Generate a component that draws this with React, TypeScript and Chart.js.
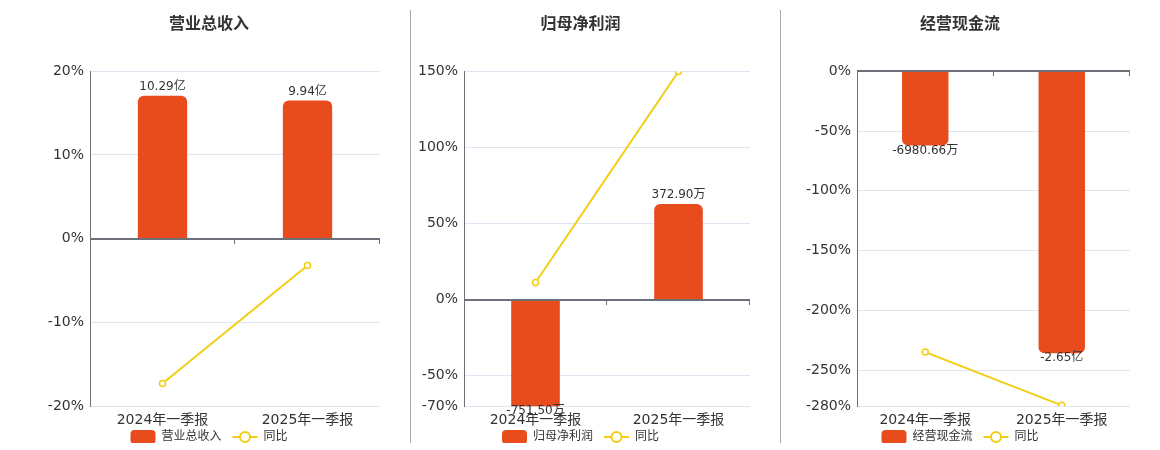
import React, { useEffect, useRef } from 'react';
import { Chart, registerables, Plugin } from 'chart.js';

Chart.register(...registerables);

// categories shared by all three panels
const categories = ['2024年一季报', '2025年一季报'];

// 营业总收入 (亿) and its yoy %
const revenueValues = [10.29, 9.94];
const revenueLabels = ['10.29亿', '9.94亿'];
const revenueYoy = [-17.3, -3.2];
const revenueTicks = [-20, -10, 0, 10, 20];

// 归母净利润 (万) and its yoy %
const profitValues = [-751.5, 372.9];
const profitLabels = ['-751.50万', '372.90万'];
const profitYoy = [11.2, 149.8];
const profitTicks = [-70, -50, 0, 50, 100, 150];

// 经营现金流 (万) and its yoy %
const cashValues = [-6980.66, -26500];
const cashLabels = ['-6980.66万', '-2.65亿'];
const cashYoy = [-234.8, -279.3];
const cashTicks = [-280, -250, -200, -150, -100, -50, 0];

const BAR_COLOR = '#e84c1d';
const LINE_COLOR = '#f2cd14';
const FONT = 'DejaVu Sans, "Noto Sans CJK SC", sans-serif';

// zero line with small ticks at category boundaries, plus value labels on bars
const decorPlugin: Plugin = {
    id: 'decor',
    afterDatasetsDraw(chart, _args, opts: any) {
        const { ctx, chartArea } = chart;
        const y = chart.scales.y;
        const zy = Math.round(y.getPixelForValue(0));
        ctx.save();
        ctx.strokeStyle = '#6e7079';
        ctx.lineWidth = 2;
        ctx.beginPath();
        ctx.moveTo(chartArea.left, zy);
        ctx.lineTo(chartArea.right, zy);
        ctx.stroke();
        ctx.lineWidth = 1;
        const step = (chartArea.right - chartArea.left) / categories.length;
        for (let i = 1; i <= categories.length; i++) {
            const px = Math.round(chartArea.left + step * i) - 0.5;
            ctx.beginPath();
            ctx.moveTo(px, zy);
            ctx.lineTo(px, zy + 5);
            ctx.stroke();
        }

        const meta = chart.getDatasetMeta(0);
        const values = chart.data.datasets[0].data as number[];
        ctx.font = `12px ${FONT}`;
        ctx.fillStyle = '#333';
        ctx.textAlign = 'center';
        meta.data.forEach((bar: any, i: number) => {
            const label = opts.labels[i];
            if (values[i] >= 0) {
                ctx.textBaseline = 'bottom';
                ctx.fillText(label, bar.x, Math.max(bar.y, chartArea.top) - 3);
            } else {
                ctx.textBaseline = 'top';
                ctx.fillText(label, bar.x, Math.min(bar.y, chartArea.bottom) - 1);
            }
        });
        ctx.restore();
    },
};

// legend at the bottom: rounded swatch for the bars, line-with-circle for 同比
const legendPlugin: Plugin = {
    id: 'bottomLegend',
    afterDraw(chart, _args, opts: any) {
        const { ctx } = chart;
        const names = chart.data.datasets.map((d) => d.label as string);
        ctx.save();
        ctx.font = `12px ${FONT}`;
        const iconW = 25;
        const gap = 6;
        const itemGap = 11;
        const widths = names.map((n) => iconW + gap + ctx.measureText(n).width);
        const total = widths.reduce((a, b) => a + b, 0) + itemGap * (names.length - 1);
        const cx = (opts.padLeft + chart.width - opts.padRight) / 2;
        const cy = chart.height - opts.offset;
        let x = cx - total / 2;
        names.forEach((n, i) => {
            if (i === 0) {
                ctx.fillStyle = BAR_COLOR;
                ctx.beginPath();
                ctx.roundRect(x, cy - 7, iconW, 14, 4);
                ctx.fill();
            } else {
                ctx.strokeStyle = LINE_COLOR;
                ctx.lineWidth = 2;
                ctx.beginPath();
                ctx.moveTo(x, cy);
                ctx.lineTo(x + iconW, cy);
                ctx.stroke();
                ctx.beginPath();
                ctx.arc(x + iconW / 2, cy, 5, 0, Math.PI * 2);
                ctx.fillStyle = '#fff';
                ctx.fill();
                ctx.stroke();
            }
            ctx.fillStyle = '#333';
            ctx.textAlign = 'left';
            ctx.textBaseline = 'middle';
            ctx.fillText(n, x + iconW + gap, cy);
            x += widths[i] + itemGap;
        });
        ctx.restore();
    },
};

type PanelProps = {
    title: string;
    name: string;
    values: number[];
    labels: string[];
    yoy: number[];
    ticks: number[];
    barMin: number;
    barMax: number;
    padLeft: number;
    padRight: number;
    axisWidth: number;
    width: number;
    border: boolean;
};

const Panel: React.FC<PanelProps> = (p) => {
    const ref = useRef<HTMLCanvasElement>(null);

    useEffect(() => {
        if (!ref.current) return;
        const yMin = Math.min(...p.ticks);
        const yMax = Math.max(...p.ticks);
        const chart = new Chart(ref.current, {
            type: 'bar',
            data: {
                labels: categories,
                datasets: [
                    {
                        type: 'bar',
                        label: p.name,
                        data: p.values,
                        yAxisID: 'y1',
                        backgroundColor: BAR_COLOR,
                        borderRadius: 6,
                        borderSkipped: 'start',
                        barPercentage: 0.34,
                        categoryPercentage: 1,
                        order: 2,
                    },
                    {
                        type: 'line',
                        label: '同比',
                        data: p.yoy,
                        yAxisID: 'y',
                        borderColor: LINE_COLOR,
                        borderWidth: 2,
                        pointRadius: 3,
                        pointBorderWidth: 1.5,
                        pointBackgroundColor: '#fff',
                        pointBorderColor: LINE_COLOR,
                        order: 1,
                    } as any,
                ],
            },
            options: {
                animation: false,
                responsive: true,
                maintainAspectRatio: false,
                layout: { padding: { left: p.padLeft, right: p.padRight, top: 0, bottom: 18 } },
                plugins: {
                    title: {
                        display: true,
                        text: p.title,
                        color: '#333',
                        font: { family: FONT, size: 16, weight: 'bold' },
                        padding: { top: 5, bottom: 37 },
                    },
                    legend: { display: false },
                    tooltip: { enabled: false },
                    decor: { labels: p.labels },
                    bottomLegend: { padLeft: p.padLeft, padRight: p.padRight, offset: 16 },
                } as any,
                scales: {
                    x: {
                        grid: { display: false, drawTicks: false },
                        border: { display: false },
                        ticks: { color: '#333', font: { family: FONT, size: 14 }, padding: 6 },
                    },
                    y: {
                        min: yMin,
                        max: yMax,
                        afterBuildTicks: (s) => {
                            s.ticks = p.ticks.map((v) => ({ value: v }));
                        },
                        afterFit: (s) => {
                            s.width = p.axisWidth;
                        },
                        grid: {
                            drawTicks: false,
                            color: (c) => (c.tick && c.tick.value === 0 ? 'transparent' : '#e0e6f1'),
                        },
                        border: { display: true, color: '#6e7079', width: 1 },
                        ticks: {
                            color: '#333',
                            padding: 6,
                            font: { family: FONT, size: 14 },
                            callback: (v) => `${v}%`,
                        },
                    },
                    y1: {
                        display: false,
                        min: p.barMin,
                        max: p.barMax,
                    },
                },
            },
            plugins: [decorPlugin, legendPlugin],
        });
        return () => {
            chart.destroy();
        };
    }, []);

    return (
        <div
            style={{
                width: p.width,
                height: 433,
                position: 'relative',
                borderLeft: p.border ? '1px solid #aaa' : 'none',
                boxSizing: 'border-box',
                flex: 'none',
            }}
        >
            <div style={{ position: 'absolute', left: 0, top: 0, right: 0, height: 443 }}>
                <canvas ref={ref}></canvas>
            </div>
        </div>
    );
};

export default function App() {
    return (
        <div style={{ display: 'flex', paddingTop: 2 }}>
            <Panel
                title="营业总收入"
                name="营业总收入"
                values={revenueValues}
                labels={revenueLabels}
                yoy={revenueYoy}
                ticks={revenueTicks}
                barMin={-12.05}
                barMax={12.05}
                padLeft={30}
                padRight={30}
                axisWidth={52}
                width={402}
                border={false}
            />
            <Panel
                title="归母净利润"
                name="归母净利润"
                values={profitValues}
                labels={profitLabels}
                yoy={profitYoy}
                ticks={profitTicks}
                barMin={-416}
                barMax={891}
                padLeft={0}
                padRight={30}
                axisWidth={53}
                width={370}
                border={true}
            />
            <Panel
                title="经营现金流"
                name="经营现金流"
                values={cashValues}
                labels={cashLabels}
                yoy={cashYoy}
                ticks={cashTicks}
                barMin={-31480}
                barMax={0}
                padLeft={9}
                padRight={22}
                axisWidth={67}
                width={372}
                border={true}
            />
        </div>
    );
}
